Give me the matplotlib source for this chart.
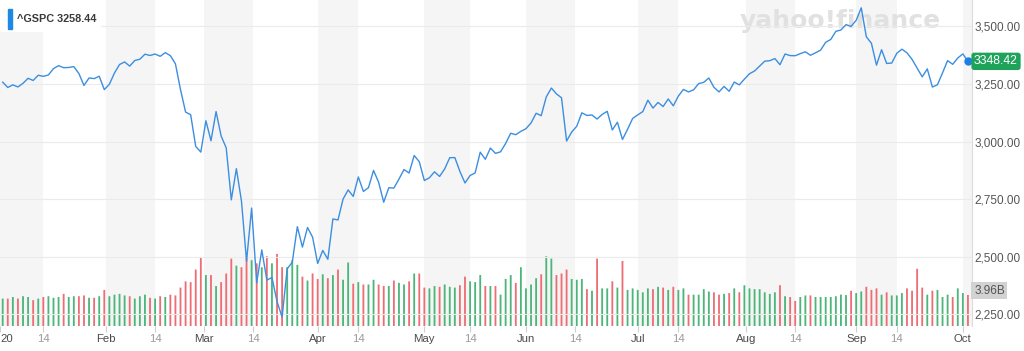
"""S&P 500 (^GSPC) daily close and volume, Jan-Oct 2020, yahoo finance style."""
import numpy as np
import pandas as pd
import matplotlib
matplotlib.use("Agg")
import matplotlib.pyplot as plt
from matplotlib.patches import Rectangle

plt.rcParams["font.family"] = ["Liberation Sans", "DejaVu Sans"]

HOLIDAYS = ["2020-01-20", "2020-02-17", "2020-04-10", "2020-05-25", "2020-07-03", "2020-09-07"]

# daily closes per month
close_jan = [3257.85, 3234.85, 3246.28, 3237.18, 3253.05, 3274.70, 3265.35, 3288.13, 3283.15, 3289.29, 3316.81,
             3329.62, 3320.79, 3321.75, 3325.54, 3295.47, 3243.63, 3276.24, 3273.40, 3283.66, 3225.52]
close_feb = [3248.92, 3297.59, 3334.69, 3345.78, 3327.71, 3352.09, 3357.75, 3379.45, 3373.94, 3380.16, 3370.29,
             3386.15, 3373.23, 3337.75, 3225.89, 3128.21, 3116.39, 2978.76, 2954.22]
close_mar = [3090.23, 3003.37, 3130.12, 3023.94, 2972.37, 2746.56, 2882.23, 2741.38, 2480.64, 2711.02, 2386.13,
             2529.19, 2398.10, 2409.39, 2304.92, 2237.40, 2447.33, 2475.56, 2630.07, 2541.47, 2626.65, 2584.59]
close_apr = [2470.50, 2526.90, 2488.65, 2663.68, 2659.41, 2749.98, 2789.82, 2761.63, 2846.06, 2783.36, 2799.55,
             2874.56, 2823.16, 2736.56, 2799.31, 2797.80, 2836.74, 2878.48, 2863.39, 2939.51, 2912.43]
close_may = [2830.71, 2842.74, 2868.44, 2848.42, 2881.19, 2929.80, 2930.32, 2870.12, 2820.00, 2852.50, 2863.70,
             2953.91, 2922.94, 2971.61, 2948.51, 2955.45, 2991.77, 3036.13, 3029.73, 3044.31]
close_jun = [3055.73, 3080.82, 3122.87, 3112.35, 3193.93, 3232.39, 3207.18, 3190.14, 3002.10, 3041.31, 3066.59,
             3124.74, 3113.49, 3115.34, 3097.74, 3117.86, 3131.29, 3050.33, 3083.76, 3009.05, 3053.24, 3100.29]
close_jul = [3115.86, 3130.01, 3179.72, 3145.32, 3169.94, 3152.05, 3185.04, 3155.22, 3197.52, 3226.56, 3215.57,
             3224.73, 3251.84, 3257.30, 3276.02, 3235.66, 3215.63, 3239.41, 3218.44, 3258.44, 3246.22, 3271.12]
close_aug = [3294.61, 3306.51, 3327.77, 3349.16, 3351.28, 3360.47, 3333.69, 3380.35, 3373.43, 3372.85, 3381.99,
             3389.78, 3374.85, 3385.51, 3397.16, 3431.28, 3443.62, 3478.73, 3484.55, 3508.01, 3500.31]
close_sep = [3526.65, 3580.84, 3455.06, 3426.96, 3331.84, 3398.96, 3339.19, 3340.97, 3383.54, 3401.20, 3385.49,
             3357.01, 3319.47, 3281.06, 3315.57, 3236.92, 3246.59, 3298.46, 3351.60, 3335.47, 3363.00]
close_oct = [3380.80, 3348.42]

# daily volume, billions
vol_jan = [3.5, 3.5, 3.7, 3.5, 3.8, 3.7, 3.3, 3.5, 3.7, 3.8, 3.6, 3.7, 4.1, 3.7, 3.8, 3.8, 3.9, 3.6, 3.6, 3.8, 4.6]
vol_feb = [3.8, 4.0, 4.1, 3.9, 3.8, 3.5, 3.8, 4.0, 3.6, 3.5, 3.8, 3.7, 4.0, 3.9, 4.9, 5.7, 5.6, 7.2, 8.7]
vol_mar = [6.5, 6.5, 5.1, 5.6, 6.7, 8.6, 7.7, 7.5, 8.9, 8.4, 8.0, 7.5, 8.9, 8.0, 9.2, 7.5, 7.5, 8.4, 7.8, 6.3,
           5.8, 6.7]
vol_apr = [6.0, 6.6, 6.1, 6.5, 7.2, 5.9, 8.1, 5.4, 5.6, 5.3, 5.3, 5.9, 5.3, 5.1, 5.1, 5.8, 5.5, 5.3, 5.7, 6.7, 6.7]
vol_may = [4.9, 4.8, 5.1, 5.0, 5.3, 5.0, 4.9, 5.2, 6.3, 5.7, 5.6, 6.5, 5.1, 5.1, 5.1, 4.0, 6.0, 6.5, 5.5, 7.5]
vol_jun = [4.8, 5.3, 6.1, 6.6, 8.9, 8.6, 6.5, 6.7, 7.2, 6.0, 5.9, 6.0, 4.7, 4.5, 8.6, 4.8, 4.8, 5.7, 4.9, 8.3,
           4.6, 4.8]
vol_jul = [4.6, 4.3, 4.8, 4.7, 5.0, 4.9, 4.6, 5.0, 4.6, 4.8, 4.0, 4.0, 4.0, 4.7, 4.4, 4.3, 4.0, 4.1, 4.2, 4.8,
           4.3, 5.2]
vol_aug = [4.8, 4.7, 4.7, 4.3, 4.1, 4.3, 5.2, 3.8, 3.7, 3.2, 3.7, 3.9, 3.9, 3.7, 3.7, 3.7, 3.7, 3.8, 4.0, 3.95, 4.5]
vol_sep = [4.2, 4.4, 5.0, 4.6, 4.8, 4.0, 4.3, 3.9, 3.9, 4.2, 4.8, 4.5, 7.3, 4.9, 4.0, 4.5, 4.6, 3.7, 4.0, 3.7, 4.8]
vol_oct = [4.2, 3.96]

month_starts = ["2020-01-01", "2020-02-01", "2020-03-01", "2020-04-01", "2020-05-01",
                "2020-06-01", "2020-07-01", "2020-08-01", "2020-09-01", "2020-10-01"]
month_labels = ["20", "Feb", "Mar", "Apr", "May", "Jun", "Jul", "Aug", "Sep", "Oct"]
mid_month = ["2020-01-14", "2020-02-14", "2020-03-14", "2020-04-14", "2020-05-14",
             "2020-06-14", "2020-07-14", "2020-08-14", "2020-09-14", "2020-10-14"]
price_ticks = [2250, 2500, 2750, 3000, 3250, 3500]
header = "^GSPC 3258.44"
last_label = "3348.42"
vol_label = "3.96B"


def main():
    close = np.array(close_jan + close_feb + close_mar + close_apr + close_may + close_jun
                     + close_jul + close_aug + close_sep + close_oct)
    vol = np.array(vol_jan + vol_feb + vol_mar + vol_apr + vol_may + vol_jun
                   + vol_jul + vol_aug + vol_sep + vol_oct)
    days = pd.bdate_range("2020-01-02", "2020-10-02")
    days = days[~days.isin(pd.to_datetime(HOLIDAYS))]
    assert len(days) == len(close) == len(vol), (len(days), len(close), len(vol))
    idx = np.arange(len(days))
    x0, x1 = -0.53, 190.8

    def pos(d):
        return float(np.interp(pd.Timestamp(d).value, days.asi8.astype(float), idx, left=x0, right=x1))

    up = np.r_[True, np.diff(close) >= 0]
    colors = np.where(up, "#4cb57a", "#ee6d74")

    fig = plt.figure(figsize=(10.24, 3.51), dpi=100)
    ax_v = fig.add_axes([0, 25 / 351, 972 / 1024, 326 / 351])
    ax = ax_v.twinx()

    # month bands (1st -> 14th)
    for a, b in zip(month_starts, mid_month):
        ax_v.axvspan(pos(a), pos(b), color="#f5f5f5", lw=0, zorder=0)
    bars = ax_v.bar(idx, vol, width=0.36, color=colors, zorder=2)
    for b in bars:
        b.set_snap(False)
    ax_v.set_ylim(0, 41.6)
    ax_v.set_yticks([])
    ax_v.text(840 / 1024, 1 - 21 / 351, "yahoo!finance", transform=fig.transFigure, ha="center", va="center",
              fontsize=18, fontweight="bold", color="#e1e1e1", family="DejaVu Sans", zorder=1)

    ticks = [pos(d) for d in month_starts] + [pos(d) for d in mid_month[:-1]]
    labels = month_labels + ["14"] * (len(mid_month) - 1)
    ax_v.set_xticks(ticks)
    ax_v.set_xticklabels(labels)
    for i, t in enumerate(ax_v.get_xticklabels()):
        t.set_color("#4a4a4a" if i < len(month_labels) else "#9b9b9b")
        if i == 0:
            t.set_horizontalalignment("left")
    ax_v.tick_params(axis="x", length=4, width=0.8, color="#cfcfcf", pad=2, labelsize=8.2)
    ax_v.set_xlim(x0, x1)

    for v in price_ticks:
        ax.axhline(v, color="#ebebeb", lw=0.8, zorder=0)
    ax.plot(idx, close, color="#3b8ee0", lw=1.0, zorder=3)
    ax.plot(idx[-1], close[-1], "o", ms=5, color="#1d7fe3", zorder=5, clip_on=False)
    ax.set_ylim(2198.7, 3614.9)
    ax.set_yticks(price_ticks)
    ax.set_yticklabels([f"{v:,.2f}" for v in price_ticks])
    ax.tick_params(axis="y", length=0, pad=2, labelsize=8.5, labelcolor="#555555")

    for a in (ax, ax_v):
        for s in ("top", "left", "bottom"):
            a.spines[s].set_visible(False)
    ax_v.spines["right"].set_visible(False)
    ax.spines["right"].set_color("#dcdcdc")
    ax.spines["right"].set_linewidth(0.8)

    ax.annotate(last_label, xy=(1, close[-1]), xycoords=ax.get_yaxis_transform(), xytext=(1.5, 0),
                textcoords="offset points", ha="left", va="center", fontsize=8.8, color="white",
                bbox=dict(boxstyle="round,pad=0.22", fc="#1fa35b", ec="none"), annotation_clip=False, zorder=6)
    ax.annotate(vol_label, xy=(1, vol[-1]), xycoords=ax_v.get_yaxis_transform(), xytext=(1.5, 3),
                textcoords="offset points", ha="left", va="center", fontsize=8.5, color="#555555",
                bbox=dict(boxstyle="square,pad=0.22", fc="#d2d2d2", ec="none"), annotation_clip=False, zorder=6)

    # header legend
    ax.add_patch(Rectangle((0, 1 - 31 / 351), 100 / 1024, 31 / 351, transform=fig.transFigure,
                           color="white", zorder=7, clip_on=False))
    ax.add_patch(Rectangle((8.3 / 1024, 1 - 29 / 351), 3.7 / 1024, 20.5 / 351, transform=fig.transFigure,
                           color="#1e88e5", zorder=8, clip_on=False))
    fig.text(17 / 1024, 1 - 18.5 / 351, header, ha="left", va="center", fontsize=7.8,
             fontweight="bold", color="#3a3a3a")

    fig.savefig("out.png", dpi=100)
    plt.close(fig)


if __name__ == "__main__":
    main()
